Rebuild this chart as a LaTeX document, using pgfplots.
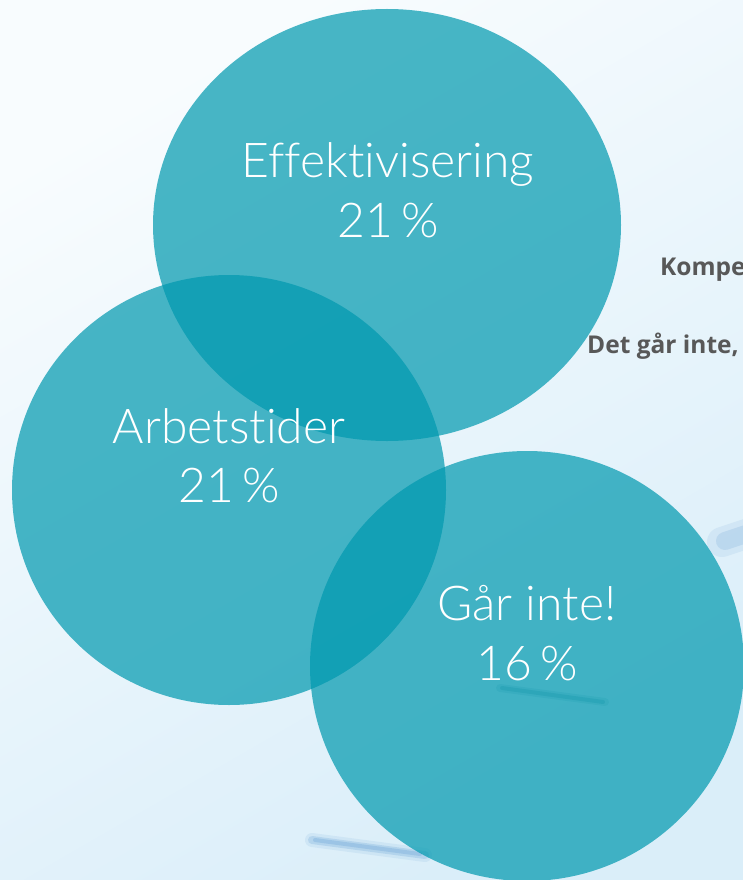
\documentclass[border=0pt]{standalone}
\usepackage{fontspec}
\setmainfont{Open Sans}
\newfontfamily\thinfont[UprightFont={* Light}, Ligatures=NoCommon]{Lato}
\usepackage{pgfplots}
\pgfplotsset{compat=1.18}

\definecolor{bubble}{HTML}{0099AF}
\definecolor{bgA}{HTML}{F8FCFE}
\definecolor{bgB}{HTML}{DAEEF9}
\definecolor{graytext}{HTML}{585858}
\definecolor{streak}{HTML}{7AAEDC}

% ellipse mark, radii come from the table
\pgfdeclareplotmark{bubble}{%
  \pgfpathellipse{\pgfpointorigin}{\pgfqpoint{\rx pt}{0pt}}{\pgfqpoint{0pt}{\ry pt}}%
  \pgfusepathqfill}

\pgfplotstableread{
x   y   rx  ry
387 225 234 216
229 490 217 215
527 666 217 215
}\bubbles

\begin{document}
\begin{tikzpicture}
\begin{axis}[
    scale only axis,
    width=743pt, height=880pt,
    xmin=0, xmax=743, ymin=0, ymax=880,
    y dir=reverse,
    hide axis,
    clip=true,
    axis background/.style={top color=bgA, bottom color=bgB, shading angle=30},
]
% background streaks (soft, layered)
\addplot[streak, line width=14pt, line cap=round, opacity=0.15] coordinates {(312,840) (425,855)};
\addplot[streak, line width=8pt, line cap=round, opacity=0.3] coordinates {(312,840) (425,855)};
\addplot[streak, line width=4pt, line cap=round, opacity=0.4] coordinates {(315,840) (420,854)};
\addplot[streak!80!white, line width=30pt, line cap=round, opacity=0.2] coordinates {(722,542) (770,526)};
\addplot[streak!80!white, line width=18pt, line cap=round, opacity=0.35] coordinates {(725,541) (770,526)};

% bubbles
\addplot[only marks, mark=bubble,
    mark options={fill=bubble, draw=none, fill opacity=0.71},
    visualization depends on={\thisrow{rx} \as \rx},
    visualization depends on={\thisrow{ry} \as \ry},
] table[x=x, y=y] {\bubbles};

\addplot[bubble!70!black, line width=8pt, line cap=round, opacity=0.12] coordinates {(500,688) (605,702)};
\addplot[bubble!70!black, line width=4pt, line cap=round, opacity=0.2] coordinates {(502,688) (603,702)};

% bubble labels
\addplot[only marks, mark=none, nodes near coords, point meta=explicit symbolic,
    every node near coord/.append style={anchor=base, text=white, inner sep=0pt,
        font=\thinfont\fontsize{48}{55}\selectfont}]
coordinates {
 (388,177) [Effektivisering]
 (388,237) [21\,\%]
 (229,443) [Arbetstider]
 (229,502) [21\,\%]
 (527,620) [Går inte!]
 (527,680) [16\,\%]
};

% labels cut off at the right edge, as in the original
\addplot[only marks, mark=none, nodes near coords, point meta=explicit symbolic,
    every node near coord/.append style={anchor=base west, text=graytext, inner sep=0pt,
        font=\bfseries\fontsize{24.5}{30}\selectfont}]
coordinates {
 (660,275) [Kompetens]
 (587,353) [Det går inte, tyvärr]
};
\end{axis}
\pgfresetboundingbox
\useasboundingbox (current axis.south west) rectangle (current axis.north east);
\end{tikzpicture}
\end{document}
